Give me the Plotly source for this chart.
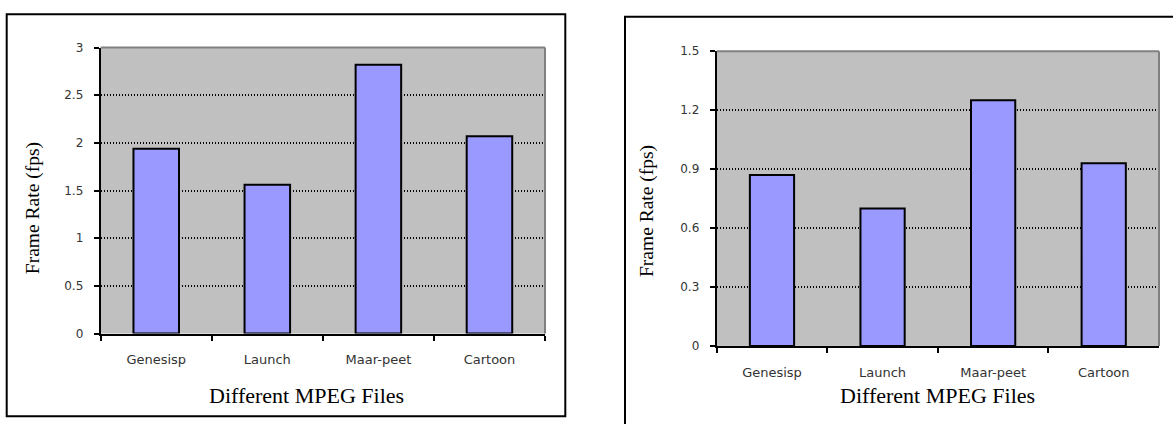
import plotly.graph_objects as go

W, H = 1173, 424

files = ["Genesisp", "Launch", "Maar-peet", "Cartoon"]
fps_left = [1.94, 1.56, 2.82, 2.07]
fps_right = [0.87, 0.70, 1.25, 0.93]
ticks_left = [0, 0.5, 1, 1.5, 2, 2.5, 3]
ticks_right = [0, 0.3, 0.6, 0.9, 1.2, 1.5]

BAR = "#9999FF"
PLOT_BG = "#C0C0C0"
XTICK_FONT = dict(family="DejaVu Sans", size=13, color="#333333")
YTICK_FONT = dict(family="DejaVu Sans", size=12, color="#333333")
XTITLE_FONT = dict(family="Liberation Serif", size=22, color="black")
YTITLE_FONT = dict(family="Liberation Serif", size=19.5, color="black")


def px_x(x):
    return x / W


def px_y(y):
    return 1 - y / H


fig = go.Figure()
fig.add_trace(go.Bar(x=files, y=fps_left, width=0.41, xaxis="x", yaxis="y",
                     marker=dict(color=BAR, line=dict(color="black", width=2))))
fig.add_trace(go.Bar(x=files, y=fps_right, width=0.40, xaxis="x2", yaxis="y2",
                     marker=dict(color=BAR, line=dict(color="black", width=2))))

xcommon = dict(type="category", showline=True, linecolor="black", linewidth=2,
               ticks="outside", ticklen=5, tickwidth=2, tickcolor="black",
               tickson="boundaries", showgrid=False, tickfont=XTICK_FONT,
               ticklabelstandoff=13, fixedrange=True)
ycommon = dict(showline=True, linecolor="black", linewidth=2,
               ticks="outside", ticklen=5, tickwidth=2, tickcolor="black",
               showgrid=True, gridcolor="black", gridwidth=1.5,
               griddash="1.5px,1.5px", zeroline=False, tickfont=YTICK_FONT,
               ticklabelstandoff=8, fixedrange=True)

fig.update_layout(
    width=W, height=H,
    margin=dict(l=0, r=0, t=0, b=0),
    paper_bgcolor="white",
    plot_bgcolor=PLOT_BG,
    showlegend=False,
    xaxis=dict(domain=[px_x(100.7), px_x(545)], anchor="y", **xcommon),
    yaxis=dict(domain=[px_y(337.7), px_y(42)], anchor="x", range=[0, 3],
               tickvals=ticks_left, ticktext=[f"{v:g}" for v in ticks_left], **ycommon),
    xaxis2=dict(domain=[px_x(716.7), px_x(1159)], anchor="y2", **xcommon),
    yaxis2=dict(domain=[px_y(350.5), px_y(45.7)], anchor="x2", range=[0, 1.5],
                tickvals=ticks_right, ticktext=[f"{v:g}" for v in ticks_right], **ycommon),
)

shapes = []
# grey top and right edges of each plot area
for xr, yr in (("x domain", "y domain"), ("x2 domain", "y2 domain")):
    shapes.append(dict(type="line", xref=xr, yref=yr, x0=0, x1=1, y0=1, y1=1,
                       line=dict(color="#808080", width=2), layer="above"))
    shapes.append(dict(type="line", xref=xr, yref=yr, x0=1, x1=1, y0=0, y1=1,
                       line=dict(color="#808080", width=2), layer="above"))
# outer chart frames
shapes.append(dict(type="rect", xref="paper", yref="paper",
                   x0=px_x(6.7), x1=px_x(565.3), y0=px_y(423.3), y1=px_y(7.5),
                   line=dict(color="black", width=2), fillcolor="rgba(0,0,0,0)"))
shapes.append(dict(type="rect", xref="paper", yref="paper",
                   x0=px_x(625), x1=px_x(1190), y0=px_y(440), y1=px_y(10),
                   line=dict(color="black", width=2), fillcolor="rgba(0,0,0,0)"))
fig.update_layout(shapes=shapes)

annotations = [
    dict(text="Different MPEG Files", x=px_x(306), y=px_y(402), font=XTITLE_FONT),
    dict(text="Different MPEG Files", x=px_x(937), y=px_y(402), font=XTITLE_FONT),
    dict(text="Frame Rate (fps)", x=px_x(33), y=px_y(208), textangle=-90, font=YTITLE_FONT),
    dict(text="Frame Rate (fps)", x=px_x(647), y=px_y(211), textangle=-90, font=YTITLE_FONT),
]
for a in annotations:
    a.update(xref="paper", yref="paper", xanchor="center", yanchor="middle",
             showarrow=False)
fig.update_layout(annotations=annotations)

fig.write_html("out.html")
